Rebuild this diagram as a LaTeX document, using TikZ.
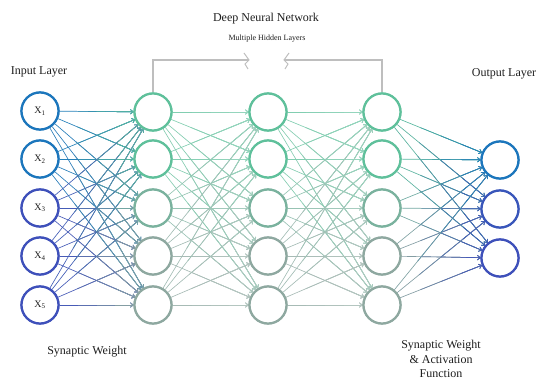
\documentclass[tikz,border=0pt]{standalone}
\usepackage{fontspec}
\setmainfont{Liberation Serif}
\usetikzlibrary{arrows.meta}
\definecolor{inblue}{RGB}{28,118,188}
\definecolor{inindigo}{RGB}{62,80,186}
\definecolor{hgreen}{RGB}{95,192,155}
\definecolor{hmid}{RGB}{122,178,158}
\definecolor{hgray}{RGB}{142,168,160}
\definecolor{brgray}{RGB}{190,190,190}
\definecolor{txt}{RGB}{30,30,30}
\colorlet{incol1}{inblue}
\colorlet{incol2}{inblue}
\colorlet{incol3}{inindigo}
\colorlet{incol4}{inindigo}
\colorlet{incol5}{inindigo}
\colorlet{hcol1}{hgreen}
\colorlet{hcol2}{hgreen}
\colorlet{hcol3}{hmid}
\colorlet{hcol4}{hgray}
\colorlet{hcol5}{hgray}
\colorlet{outcol1}{inblue}
\colorlet{outcol2}{inindigo!85!inblue}
\colorlet{outcol3}{inindigo}
% gradient-like connector: source node, target node, source colour, target colour
\newcommand\nnedge[4]{%
  \path (#1) -- (#2) coordinate[pos=0.25] (ea) coordinate[pos=0.5] (eb) coordinate[pos=0.75] (ec);
  \draw[edgeline,#4!12!#3] (#1) -- (#2);
  \draw[edgeline,#4!37!#3] (ea) -- (#2);
  \draw[edgeline,#4!62!#3] (eb) -- (#2);
  \draw[edgeline,#4!87!#3] (ec) -- (#2);
}
\begin{document}
\begin{tikzpicture}[x=1pt,y=-1pt,
  neuron/.style={circle,draw=#1,line width=2.2pt,minimum size=37pt,inner sep=0pt,fill=white,
    font=\fontsize{10}{12}\selectfont,text=txt},
  edgeline/.style={line width=0.65pt,-{To[length=3.2pt,width=5pt]}},
  lbl/.style={font=\fontsize{12}{14.5}\selectfont,text=txt,inner sep=0pt},
  bracketline/.style={draw=brgray,line width=1.3pt}]
\useasboundingbox (0,0) rectangle (550,390);

% input layer
\foreach \i/\y in {1/111,2/159,3/208,4/256,5/305}
  \node[neuron=incol\i] (in\i) at (40,\y) {X\textsubscript{\i}};
% hidden layers
\foreach \i/\y in {1/112,2/159,3/208,4/256,5/305}{
  \node[neuron=hcol\i] (ha\i) at (153,\y) {};
  \node[neuron=hcol\i] (hb\i) at (268,\y) {};
  \node[neuron=hcol\i] (hc\i) at (382,\y) {};
}
% output layer
\foreach \i/\y in {1/160,2/209,3/258}
  \node[neuron=outcol\i] (out\i) at (500,\y) {};

% connections
\foreach \i in {1,...,5}
  \foreach \j in {1,...,5}{
    \nnedge{in\i}{ha\j}{incol\i}{hcol\j}
    \nnedge{ha\i}{hb\j}{hcol\i!80!white}{hcol\j!80!white}
    \nnedge{hb\i}{hc\j}{hcol\i!80!white}{hcol\j!80!white}
  }
\foreach \i in {1,...,5}
  \foreach \j in {1,2,3}{
    \nnedge{hc\i}{out\j}{hcol\i}{outcol\j}
  }

% redraw node rims on top
\foreach \i in {1,...,5}{
  \node[neuron=incol\i] at (in\i) {X\textsubscript{\i}};
  \node[neuron=hcol\i] at (ha\i) {};
  \node[neuron=hcol\i] at (hb\i) {};
  \node[neuron=hcol\i] at (hc\i) {};
}
\foreach \i in {1,2,3}
  \node[neuron=outcol\i] at (out\i) {};

% bracket over hidden layers
\coordinate (ml) at (249,60);
\coordinate (mr) at (284,60);
\draw[bracketline] (ha1) |- (ml);
\draw[bracketline] (hc1) |- (mr);
\draw[bracketline,line width=1pt] (244,53) -- (ml) -- (245,64) -- (248,69);
\draw[bracketline,line width=1pt] (289,53) -- (mr) -- (288,64) -- (285,69);

% labels
\node[lbl] (title) at (266,19) {Deep Neural Network};
\node[lbl,font=\fontsize{8}{9}\selectfont] (sub) at (267,39) {Multiple Hidden Layers};
\node[lbl] (inlabel) at (39,72) {Input Layer};
\node[lbl] (outlabel) at (504,74) {Output Layer};
\node[lbl] (sw) at (87,352) {Synaptic Weight};
\node[lbl,align=center] (swa) at (441,359) {Synaptic Weight\\\& Activation\\Function};
\end{tikzpicture}
\end{document}
